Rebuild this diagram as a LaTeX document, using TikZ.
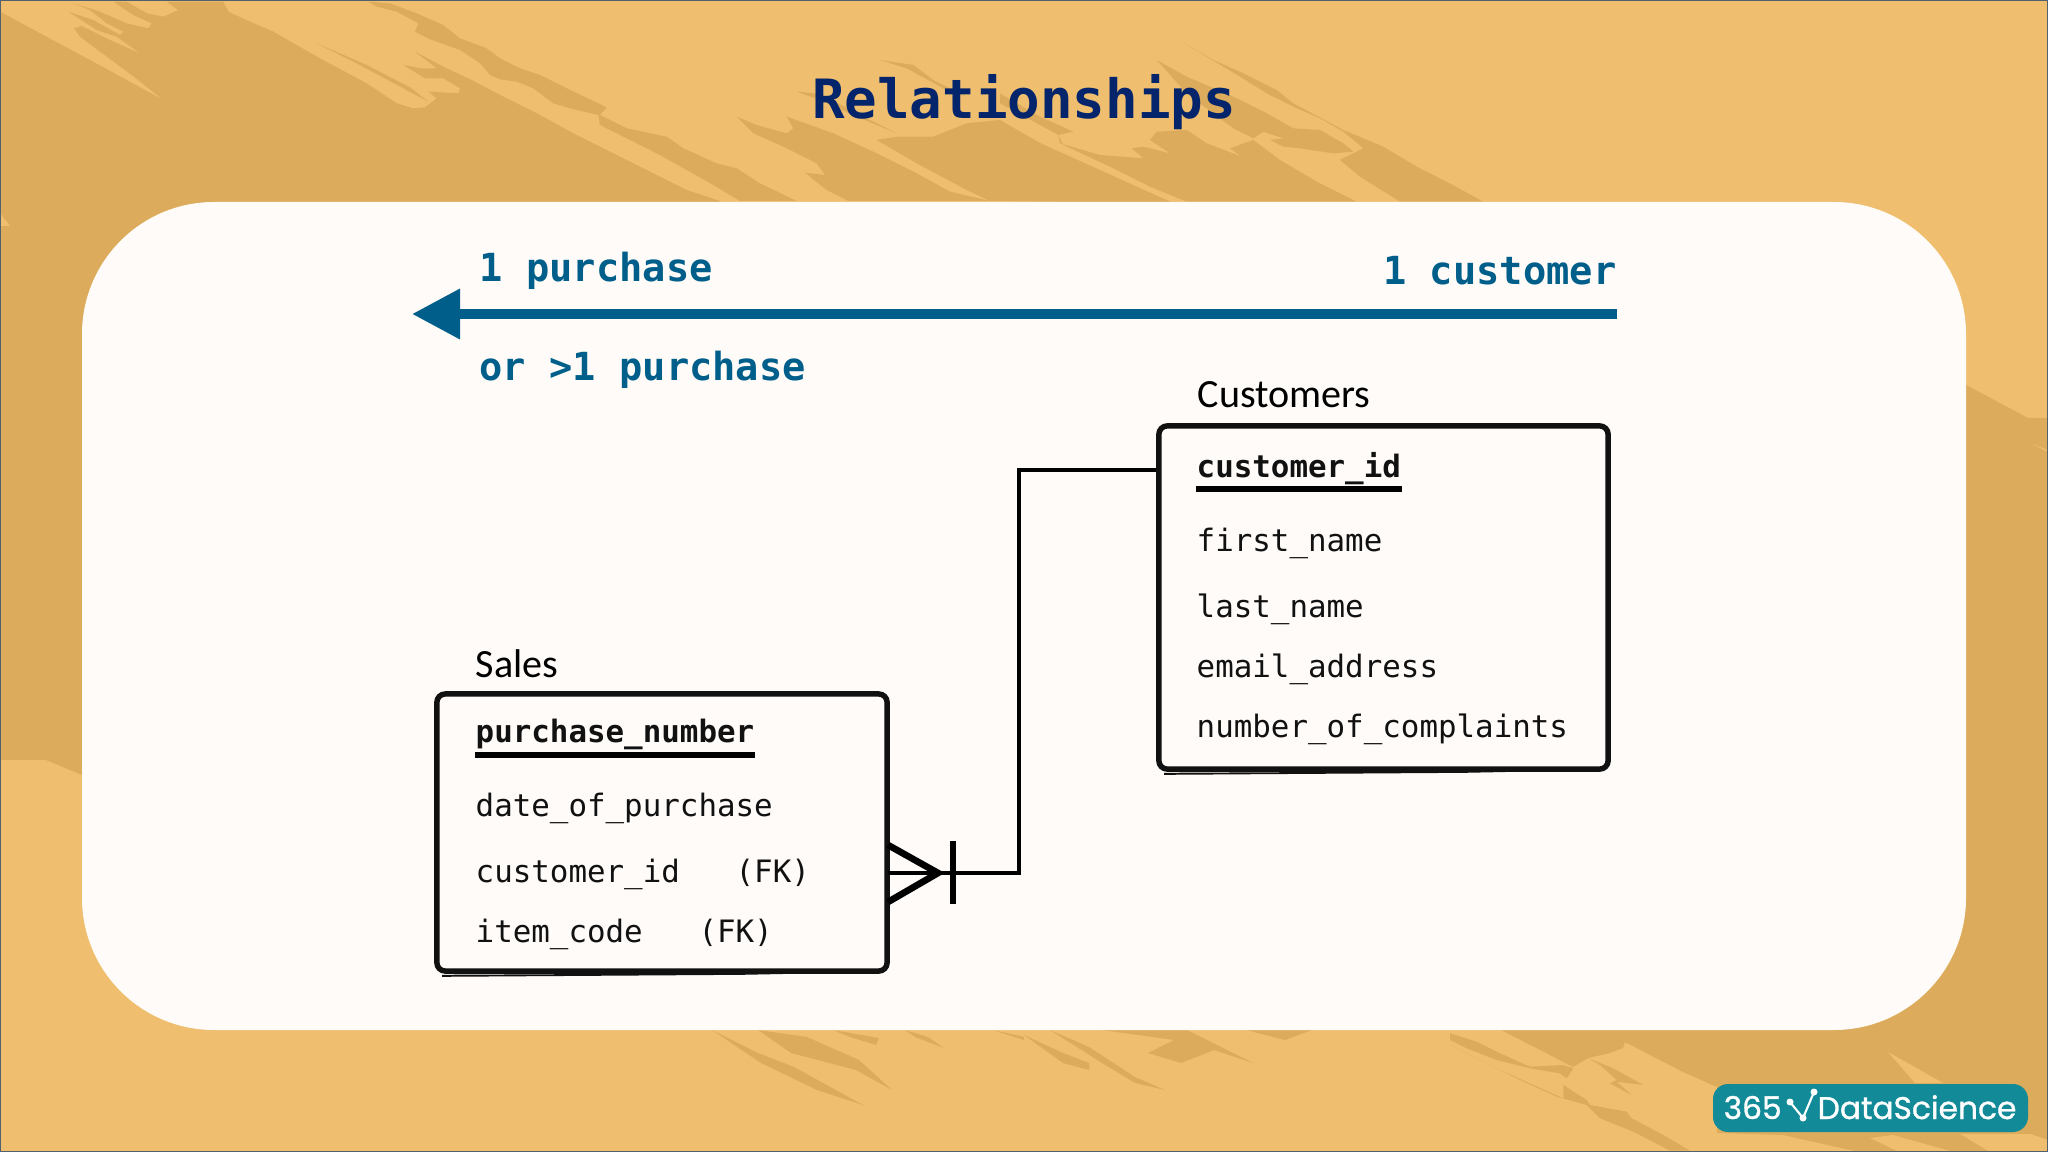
\documentclass[tikz,border=0pt]{standalone}
\usepackage{fontspec}
\usetikzlibrary{arrows.meta}
\newfontfamily\codefont{DejaVu Sans Mono}
\newfontfamily\namefont{Carlito}
\newfontfamily\logofont[FakeBold=1]{Poppins}
\definecolor{sandlight}{HTML}{EFBE6E}
\definecolor{sanddark}{HTML}{DCAB5B}
\definecolor{panelwhite}{HTML}{FEFBF8}
\definecolor{framegray}{HTML}{4F6272}
\definecolor{titleblue}{HTML}{04246B}
\definecolor{arrowblue}{HTML}{005F8A}
\definecolor{logoteal}{HTML}{128A98}
\definecolor{inkblack}{HTML}{111111}
\tikzset{
  brush/.style={fill=sanddark},
  gap/.style={fill=sandlight},
  titletext/.style={anchor=base,inner sep=0pt,text=titleblue,font=\codefont\bfseries\fontsize{15.4}{18}\selectfont},
  sidetext/.style={inner sep=0pt,text=arrowblue,font=\codefont\bfseries\fontsize{11}{13}\selectfont},
  tablename/.style={anchor=base west,inner sep=0pt,text=black,font=\namefont\fontsize{11.4}{13}\selectfont},
  tablebox/.style={draw=inkblack,line width=1.55pt,rounded corners=2.4pt},
  thickedge/.style={fill=inkblack},
  field/.style={anchor=base west,inner sep=0pt,text=inkblack,font=\codefont\fontsize{8.77}{10}\selectfont},
  keyfield/.style={field,font=\codefont\bfseries\fontsize{8.77}{10}\selectfont},
  keyline/.style={draw=black,line width=1.5pt},
  link/.style={draw=black,line width=1.2pt},
  crow/.style={draw=black,line width=1.9pt},
  logotext/.style={anchor=base west,inner sep=0pt,text=white,font=\logofont\fontsize{8.9}{10}\selectfont},
}
\begin{document}
\begin{tikzpicture}[x=0.01cm,y=-0.01cm]
\useasboundingbox (0,0) rectangle (2048,1152);
\fill[sandlight] (0,0) rectangle (2048,1152);
% big brush area, top left
\begin{scope}[scale=1/3]
\fill[brush] plot coordinates {(0,35)(130,105)(270,180)(490,300)(395,225)(300,155)(240,110)(222,85)(245,78)(330,120)(420,160)(350,110)(290,90)(205,35)(280,60)(360,105)(370,95)(320,70)(270,30)(215,8)(300,35)(380,70)(445,85)(455,70)(400,45)(340,5)(380,5)(440,40)(490,50)(535,30)(500,5)(670,5)(685,35)(750,65)(820,95)(960,175)(1100,250)(1190,310)(1240,325)(1275,322)(1310,295)(1285,275)(1375,280)(1380,265)(1330,235)(1275,235)(1210,195)(1265,205)(1310,205)(1245,155)(1340,205)(1415,240)(1500,285)(1620,345)(1720,400)(1900,490)(2060,570)(2160,603)(2160,900)(300,900)(300,2325)(246,2325)(138,2280)(0,2280)} -- cycle;
\fill[brush] plot coordinates {(950,130)(1070,190)(1210,265)(1285,305)(1230,262)(1100,195)} -- cycle;
\fill[brush] plot coordinates {(1105,5)(1170,10)(1250,40)(1330,75)(1380,115)(1460,145)(1500,175)(1560,205)(1620,225)(1700,265)(1820,322)(1800,345)(1880,385)(2000,410)(2050,445)(2150,490)(2210,505)(2280,550)(2390,603)(2220,603)(2140,555)(2060,510)(1970,460)(1870,410)(1800,375)(1795,345)(1710,325)(1660,310)(1600,265)(1550,245)(1500,238)(1470,225)(1440,190)(1380,150)(1290,118)(1245,95)(1255,70)(1190,35)(1130,20)} -- cycle;
\end{scope}
% strokes under the title
\begin{scope}[shift={(500,0)},scale=1/3]
\fill[brush] plot coordinates {(710,350)(770,375)(860,400)(880,385)(860,350)(1000,400)(1130,460)(1250,520)(1350,575)(1470,603)(1045,603)(980,570)(915,518)(975,525)(950,490)(850,440)(760,400)} -- cycle;
\fill[brush] plot coordinates {(1190,410)(1300,410)(1400,370)(1500,360)(1620,429)(1800,510)(2019,609)(1470,603)(1400,570)(1250,490)(1130,420)} -- cycle;
\fill[brush] plot coordinates {(890,275)(960,282)(1110,360)(1190,400)(1080,354)(960,300)} -- cycle;
\fill[brush] plot coordinates {(1140,180)(1240,195)(1300,240)(1400,290)(1330,265)(1220,205)} -- cycle;
\end{scope}
\begin{scope}[shift={(1000,60)},scale=1/3]
\fill[brush] plot coordinates {(0,100)(120,170)(220,215)(175,225)(0,130)} -- cycle;
\fill[brush] plot coordinates {(175,225)(180,250)(300,285)(430,295)(395,265)(430,260)(510,280)(450,240)(470,215)(560,210)(620,250)(725,290)(690,265)(760,240)(840,300)(950,365)(1070,425)(560,425)(450,380)(330,320)(190,255)} -- cycle;
\fill[brush] plot coordinates {(470,0)(560,50)(700,110)(800,160)(880,205)(960,210)(1030,250)(1060,275)(1000,280)(900,265)(850,260)(810,240)(850,235)(790,215)(760,235)(700,205)(640,160)(560,100)} -- cycle;
\fill[brush] plot coordinates {(552,-51)(640,0)(730,40)(830,90)(880,130)(1030,210)(1150,260)(1250,320)(1330,360)(1450,425)(1200,425)(1080,350)(1020,300)(1090,265)(1030,215)(960,175)(880,140)(800,100)(720,50)} -- cycle;
\end{scope}
% right side and bottom right
\fill[brush] plot coordinates {(1497,1028)(1550,1055)(1573,1067)(1588,1058)(1610,1053)(1623,1048)(1625,1042)(1650,1055)(1683,1072)(1717,1087)(1717,1133)(1783,1135)(1850,1150)(1860,1152)(2048,1152)(2048,418)(2028,418)(1966,385)(1900,385)(1900,1000)(1500,1000)} -- cycle;
\fill[gap] plot coordinates {(1888,1052)(1943,1083)(1915,1083)} -- cycle;
\fill[gap] plot coordinates {(1870,1138)(1893,1135)(1950,1151)(1897,1151)} -- cycle;
\fill[gap] plot coordinates {(1960,1134)(2030,1134)(2048,1140)(2048,1152)(1990,1152)} -- cycle;
\fill[gap] plot coordinates {(2032,444)(2048,450)(2048,452)} -- cycle;
\fill[gap] plot coordinates {(0,213)(10,226)(0,226)} -- cycle;
% bottom strokes
\fill[brush] plot coordinates {(712,1030)(758,1053)(794,1067)(863,1105)(817,1090)(761,1063)} -- cycle;
\fill[brush] plot coordinates {(758,1030)(807,1037)(859,1060)(892,1090)(856,1070)(791,1053)} -- cycle;
\fill[brush] plot coordinates {(833,1030)(879,1038)(876,1045)(850,1037)} -- cycle;
\fill[brush] plot coordinates {(905,1030)(928,1037)(944,1048)(915,1037)} -- cycle;
\fill[brush] plot coordinates {(993,1030)(1024,1037)(1024,1040)} -- cycle;
\fill[brush] plot coordinates {(1024,1035)(1063,1053)(1089,1063)(1089,1070)(1063,1063)} -- cycle;
\fill[brush] plot coordinates {(1050,1030)(1089,1047)(1135,1077)(1165,1090)(1135,1083)(1102,1063)} -- cycle;
\fill[brush] plot coordinates {(1102,1030)(1187,1030)(1253,1063)(1214,1050)(1181,1063)(1148,1053)(1174,1040)} -- cycle;
\fill[brush] plot coordinates {(1246,1030)(1312,1030)(1285,1040)} -- cycle;
\begin{scope}[shift={(1450,1025)},scale=1/3]
\fill[brush] plot coordinates {(0,25)(80,50)(150,85)(240,125)(340,120)(370,130)(350,160)(330,145)(240,130)(140,105)(50,70)(0,45)} -- cycle;
\fill[brush] plot coordinates {(0,60)(140,130)(250,180)(340,220)(340,180)(410,225)(420,240)(530,260)(545,280)(640,330)(720,377)(660,377)(550,320)(450,280)(410,240)(320,215)(200,160)(100,110)} -- cycle;
\fill[brush] plot coordinates {(415,100)(490,130)(580,180)(500,170)(545,210)(480,175)(500,165)(450,120)} -- cycle;
\end{scope}
\draw[framegray,line width=0.6pt] (0,0) rectangle (2048,1152);
% white panel
\fill[panelwhite,rounded corners=1.32cm] (82,202) rectangle (1966,1030);
% title and arrow
\node[titletext] (title) at (1024,119) {Relationships};
\node[sidetext,anchor=base west] (onepurchase) at (479,282) {1 purchase};
\node[sidetext,anchor=base east] (onecustomer) at (1617,285) {1 customer};
\node[sidetext,anchor=base west] (manypurchase) at (479,381) {or >1 purchase};
\coordinate (arrowstart) at (1617,314);
\coordinate (arrowtip) at (412,314);
\draw[arrowblue,line width=2.85pt,-{Triangle[length=13.65pt,width=13.65pt]}] (arrowstart) -- (arrowtip);
% tables
\node[tablebox,minimum width=4.49cm,minimum height=3.43cm] (customers) at (1383.5,597.5) {};
\node[tablebox,minimum width=4.50cm,minimum height=2.77cm] (sales) at (662,832.5) {};
\fill[thickedge] (customers.south west) ++(8,1) -- ++(0,2) -- ++(300,-2) -- ++(100,-2) -- cycle;
\fill[thickedge] (sales.south west) ++(8,1) -- ++(0,2) -- ++(300,-2) -- ++(100,-2) -- cycle;
\node[tablename] (customersname) at (1197,408) {Customers};
\node[tablename] (salesname) at (475,677) {Sales};
\node[keyfield] (customerid) at (1196,478) {customer\_id};
\node[field] (firstname) at (1196,551) {first\_name};
\node[field] (lastname) at (1196,617) {last\_name};
\node[field] (emailaddress) at (1196,677) {email\_address};
\node[field] (complaints) at (1196,737) {number\_of\_complaints};
\draw[keyline] (customerid.base west |- 0,489) -- (customerid.base east |- 0,489);
\node[keyfield] (purchasenumber) at (475,742) {purchase\_number};
\node[field] (dateofpurchase) at (475,816) {date\_of\_purchase};
\node[field] (salescustomer) at (475,882) {customer\_id\ \ \ (FK)};
\node[field] (itemcode) at (475,942) {item\_code\ \ \ (FK)};
\draw[keyline] (purchasenumber.base west |- 0,755) -- (purchasenumber.base east |- 0,755);
% relationship line
\coordinate (linetop) at (1019,470);
\coordinate (linebottom) at (1019,873);
\coordinate (salesend) at (888,873);
\coordinate (crowtip) at (938,873);
\coordinate (crowup) at (888,845);
\coordinate (crowdown) at (888,902);
\coordinate (bartop) at (953,841);
\coordinate (barbottom) at (953,904);
\draw[link] (customers.west |- linetop) -- (linetop) -- (linebottom) -- (salesend);
\draw[crow] (crowup) -- (crowtip) -- (crowdown);
\draw[crow] (bartop) -- (barbottom);
% logo
\fill[logoteal,rounded corners=1.5mm] (1713,1084) rectangle (2028,1132);
\node[logotext] (logoleft) at (1723,1119) {365};
\node[logotext] (logoright) at (1817,1119) {DataScience};
\coordinate (checka) at (1790,1102);
\coordinate (checkb) at (1803,1118);
\coordinate (checkc) at (1814,1092);
\draw[white,line width=0.6pt] (checka) -- (checkb) -- (checkc);
\foreach \x in {(checka), (checkb), (checkc)}{
  \fill[white] \x circle (3.5);
}
\end{tikzpicture}
\end{document}
